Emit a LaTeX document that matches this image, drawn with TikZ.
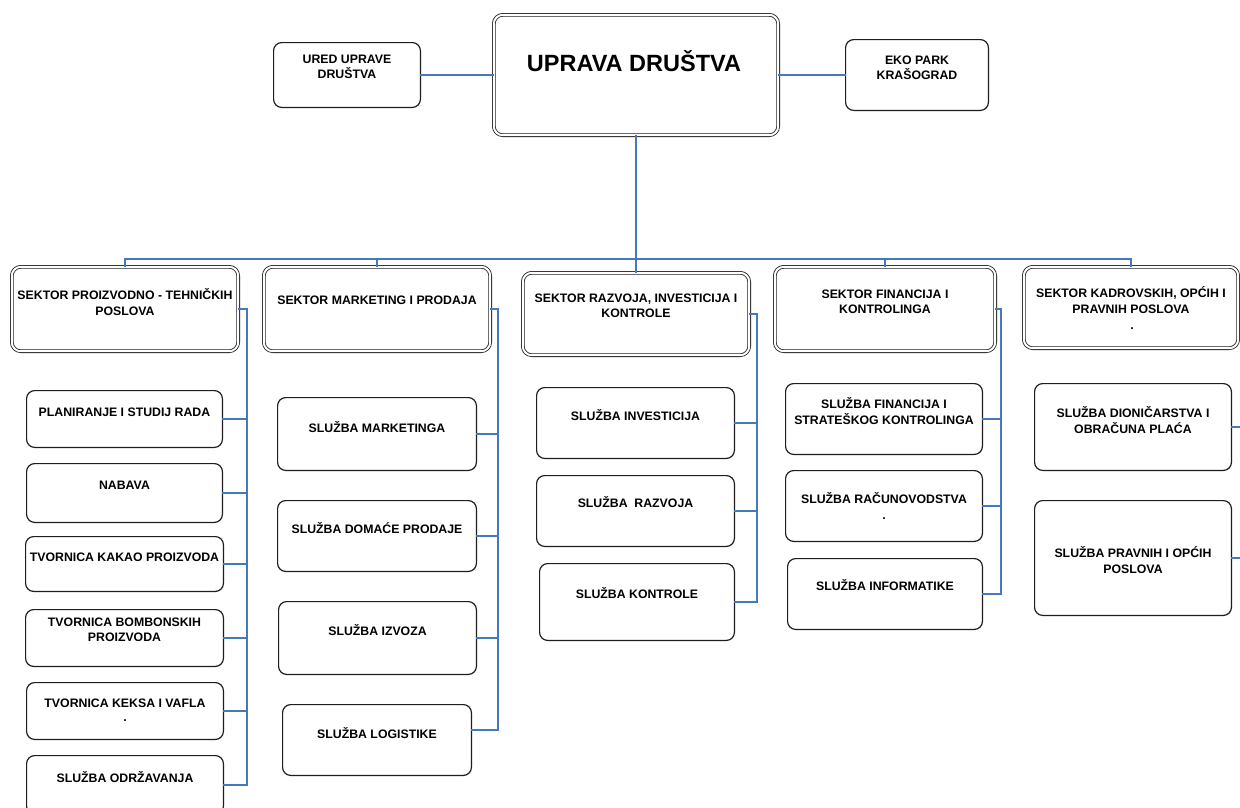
\documentclass[tikz,border=0pt]{standalone}
\usepackage{fontspec}
\setmainfont{Liberation Sans}
\definecolor{connblue}{RGB}{70,120,190}
\definecolor{boxline}{RGB}{30,30,30}
\tikzset{
  cbox/.style={draw=boxline, line width=1.2pt, rounded corners=8pt, inner sep=0pt, outer sep=0pt},
  dbox/.style={draw=boxline, double=white, double distance=2pt, line width=0.8pt, rounded corners=9pt, inner sep=0pt, outer sep=0pt},
  txt/.style={font=\bfseries\fontsize{12.3}{15.5}\selectfont, align=center, inner sep=0pt, text=black},
  conn/.style={draw=connblue, line width=1.2pt}
}
% single box: name x1 y1 x2 y2 texty text
\newcommand\cbx[7]{%
  \node[cbox, minimum width={#4pt-#2pt-1.2pt}, minimum height={#5pt-#3pt-1.2pt}] (#1) at ({(#2+#4)/2},{(#3+#5)/2}) {};
  \node[txt] (#1t) at ({(#2+#4)/2},#6) {#7};}
% double box
\newcommand\dbx[7]{%
  \node[dbox, minimum width={#4pt-#2pt-3.6pt}, minimum height={#5pt-#3pt-3.6pt}] (#1) at ({(#2+#4)/2},{(#3+#5)/2}) {};
  \node[txt] (#1t) at ({(#2+#4)/2},#6) {#7};}
\begin{document}
\begin{tikzpicture}[x=1pt,y=-1pt]
\useasboundingbox (0,0) rectangle (1240,807);
\fill[white] (0,0) rectangle (1240,807);

% top level
\cbx{ured}{273}{42}{421}{108}{67}{URED UPRAVE\\DRUŠTVA}
\node[dbox, minimum width={288pt-3.6pt}, minimum height={124pt-3.6pt}] (uprava) at (636,75) {};
\node[font=\bfseries\fontsize{23.5}{27}\selectfont, inner sep=0pt, anchor=base] (upravat) at (634,71.5) {UPRAVA DRUŠTVA};
\cbx{eko}{845}{39}{989}{111}{68}{EKO PARK\\KRAŠOGRAD}

% sectors
\dbx{s1}{10}{265}{240}{353}{302}{SEKTOR PROIZVODNO - TEHNIČKIH\\POSLOVA}
\dbx{s2}{262}{265}{492}{353}{300}{SEKTOR MARKETING I PRODAJA}
\dbx{s3}{521}{271}{751}{357}{306}{SEKTOR RAZVOJA, INVESTICIJA I\\KONTROLE}
\dbx{s4}{773}{265}{997}{353}{302}{SEKTOR FINANCIJA I\\KONTROLINGA}
\dbx{s5}{1022}{265}{1240}{350}{300}{SEKTOR KADROVSKIH, OPĆIH I\\PRAVNIH POSLOVA}
\node[txt] (s5d) at (1132,329) {.};

% column 1
\cbx{p1}{26}{390}{223}{448}{412}{PLANIRANJE I STUDIJ RADA}
\cbx{p2}{26}{463}{223}{523}{485}{NABAVA}
\cbx{p3}{25}{536}{224}{592}{557}{TVORNICA KAKAO PROIZVODA}
\cbx{p4}{25}{609}{224}{667}{630}{TVORNICA BOMBONSKIH\\PROIZVODA}
\cbx{p5}{26}{682}{224}{740}{703}{TVORNICA KEKSA I VAFLA}
\node[txt] (p5d) at (125,721) {.};
\cbx{p6}{26}{755}{224}{815}{777}{SLUŽBA ODRŽAVANJA}

% column 2
\cbx{m1}{277}{397}{477}{471}{427}{SLUŽBA MARKETINGA}
\cbx{m2}{277}{500}{477}{572}{528}{SLUŽBA DOMAĆE PRODAJE}
\cbx{m3}{278}{601}{477}{675}{630}{SLUŽBA IZVOZA}
\cbx{m4}{282}{704}{472}{776}{733}{SLUŽBA LOGISTIKE}

% column 3
\cbx{r1}{536}{387}{735}{459}{415}{SLUŽBA INVESTICIJA}
\cbx{r2}{536}{475}{735}{547}{502}{SLUŽBA\ \ RAZVOJA}
\cbx{r3}{539}{563}{735}{641}{593}{SLUŽBA KONTROLE}

% column 4
\cbx{f1}{785}{383}{983}{455}{411}{SLUŽBA FINANCIJA I\\STRATEŠKOG KONTROLINGA}
\cbx{f2}{785}{470}{983}{542}{498}{SLUŽBA RAČUNOVODSTVA}
\node[txt] (f2d) at (884,519) {.};
\cbx{f3}{787}{558}{983}{630}{585}{SLUŽBA INFORMATIKE}

% column 5
\cbx{k1}{1034}{383}{1232}{471}{420}{SLUŽBA DIONIČARSTVA I\\OBRAČUNA PLAĆA}
\cbx{k2}{1034}{500}{1232}{616}{560}{SLUŽBA PRAVNIH I OPĆIH\\POSLOVA}

% connectors
\coordinate (bus) at (0,259);
\coordinate (v1) at (247,0);
\coordinate (v2) at (498,0);
\coordinate (v3) at (757,0);
\coordinate (v4) at (1001,0);
\coordinate (v5) at (1240,0);

\draw[conn] (ured.east) -- (ured.east -| uprava.west);
\draw[conn] (uprava.east) -- (uprava.east -| eko.west);
\draw[conn] (uprava.south) -- (s3.north);
\draw[conn] (s1.north) -- (s1.north |- bus) -- (s5.north |- bus) -- (s5.north);
\draw[conn] (s2.north) -- (s2.north |- bus);
\draw[conn] (s4.north) -- (s4.north |- bus);

\draw[conn] (s1.east) -- (s1.east -| v1) -- (p6.east -| v1) -- (p6.east);
\foreach \n in {p1,p2,p3,p4,p5} \draw[conn] (\n.east) -- (\n.east -| v1);

\coordinate (m4c) at ([yshift=10pt]m4.east);
\draw[conn] (s2.east) -- (s2.east -| v2) -- (m4c -| v2) -- (m4c);
\foreach \n in {m1,m2,m3} \draw[conn] (\n.east) -- (\n.east -| v2);

\draw[conn] (s3.east) -- (s3.east -| v3) -- (r3.east -| v3) -- (r3.east);
\foreach \n in {r1,r2} \draw[conn] (\n.east) -- (\n.east -| v3);

\draw[conn] (s4.east) -- (s4.east -| v4) -- (f3.east -| v4) -- (f3.east);
\foreach \n in {f1,f2} \draw[conn] (\n.east) -- (\n.east -| v4);

\foreach \n in {k1,k2} \draw[conn] (\n.east) -- (\n.east -| v5);
\end{tikzpicture}
\end{document}
